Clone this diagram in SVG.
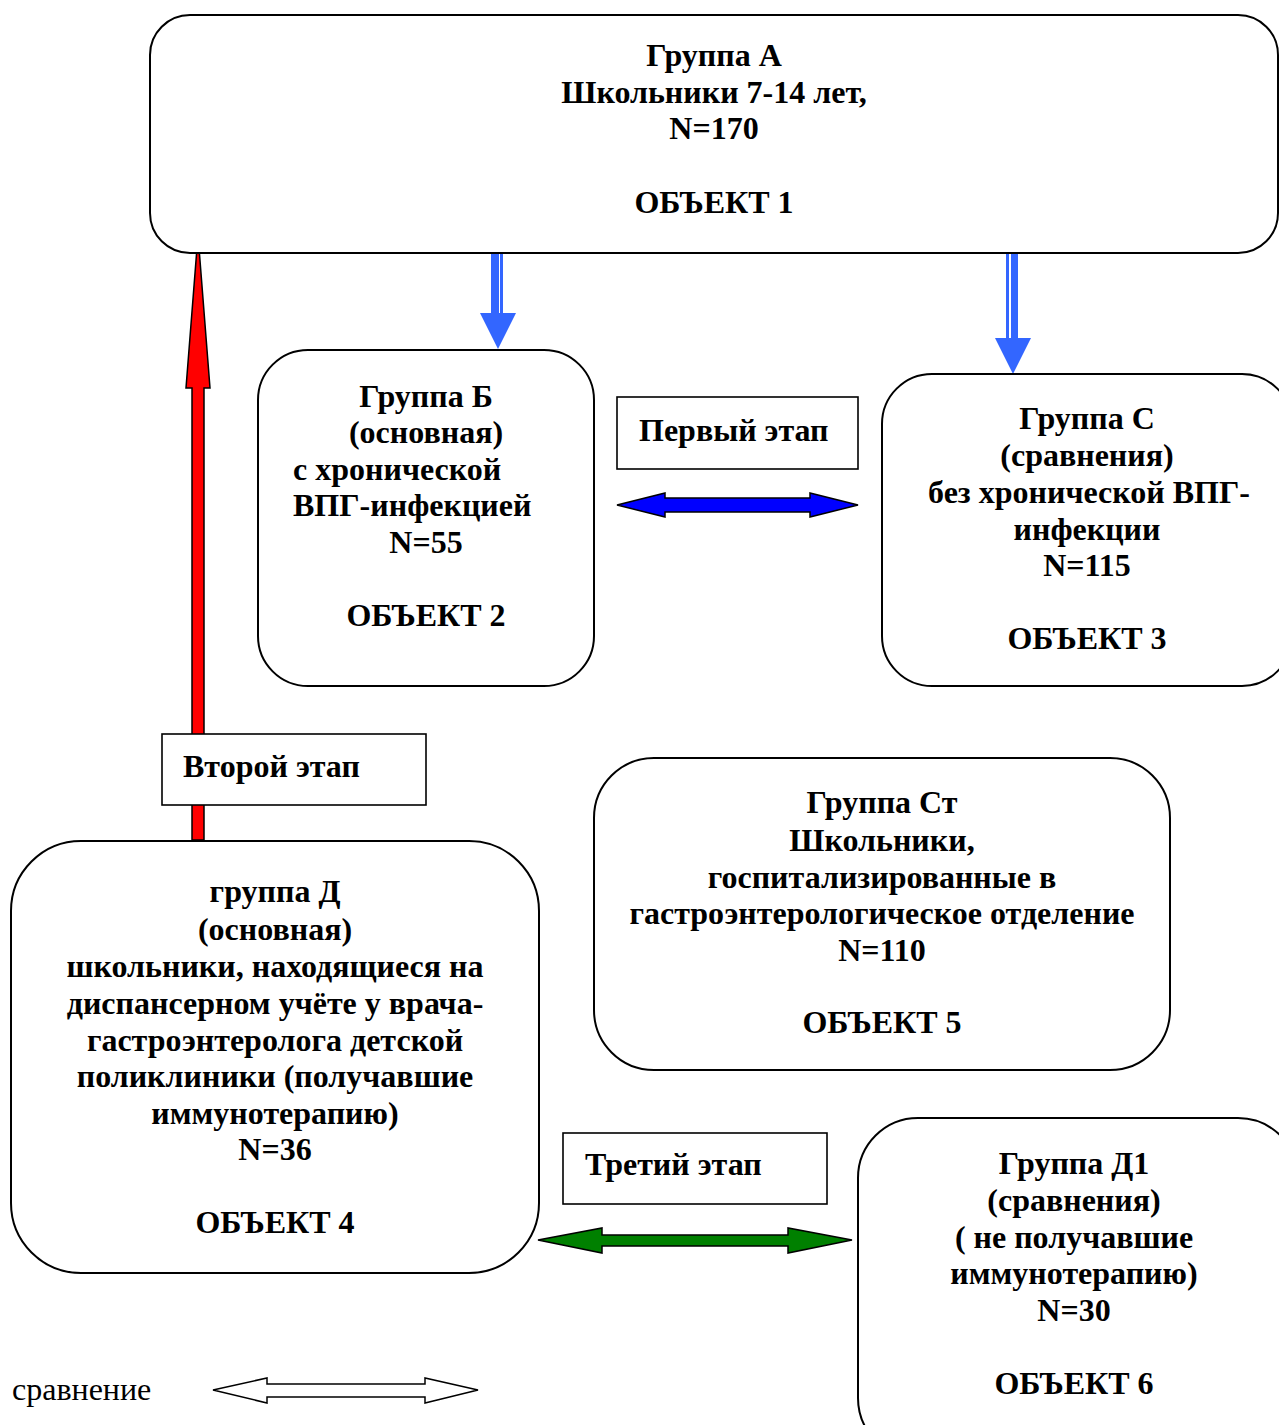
<svg xmlns="http://www.w3.org/2000/svg" width="1279" height="1425" viewBox="0 0 1279 1425">
<style>
.box{fill:#fff;stroke:#000;stroke-width:2}
.lbl{fill:#fff;stroke:#000;stroke-width:1.6}
text{font-family:"Liberation Serif","Times New Roman",serif;font-size:32px;font-weight:bold;fill:#000}
.c{text-anchor:middle}
.reg{font-weight:normal}
.arr{stroke:#000;stroke-width:1.5;stroke-linejoin:miter}
</style>
<rect width="1279" height="1425" fill="#fff"/>
<g id="connectors">
  <polygon id="red-arrow" class="arr" fill="#ff0000" points="192,840 192,388 186,388 198,235 210,388 204,388 204,840"/>
  <g id="blue-down-1" fill="#3366ff">
    <rect x="491" y="250" width="8" height="66"/>
    <rect x="500" y="250" width="3" height="66"/>
    <polygon points="480,313 516,313 498,349"/>
  </g>
  <g id="blue-down-2" fill="#3366ff">
    <rect x="1006" y="250" width="3" height="90"/>
    <rect x="1011" y="250" width="7" height="90"/>
    <polygon points="995,338 1031,338 1013,374"/>
  </g>
  <polygon id="blue-double" class="arr" fill="#0000ff" points="617,505 665,493 665,498 810,498 810,493 858,505 810,517 810,512 665,512 665,517"/>
  <polygon id="green-double" class="arr" fill="#008000" points="538,1240 602,1228 602,1235 788,1235 788,1228 852,1240 788,1253 788,1246 602,1246 602,1253"/>
</g>
<g id="node-A">
  <rect class="box" x="150" y="15" width="1128" height="238" rx="40" ry="40"/>
  <text class="c" x="714" y="66">Группа А</text>
  <text class="c" x="714" y="103">Школьники 7-14 лет,</text>
  <text class="c" x="714" y="139">N=170</text>
  <text class="c" x="714" y="213">ОБЪЕКТ 1</text>
</g>
<g id="node-B">
  <rect class="box" x="258" y="350" width="336" height="336" rx="50" ry="50"/>
  <text class="c" x="426" y="407">Группа Б</text>
  <text class="c" x="426" y="443">(основная)</text>
  <text x="293" y="480">с хронической</text>
  <text x="293" y="516">ВПГ-инфекцией</text>
  <text class="c" x="426" y="553">N=55</text>
  <text class="c" x="426" y="626">ОБЪЕКТ 2</text>
</g>
<g id="node-C">
  <rect class="box" x="882" y="374" width="410" height="312" rx="50" ry="50"/>
  <text class="c" x="1087" y="429">Группа С</text>
  <text class="c" x="1087" y="466">(сравнения)</text>
  <text class="c" x="1089" y="503">без хронической ВПГ-</text>
  <text class="c" x="1087" y="540">инфекции</text>
  <text class="c" x="1087" y="576">N=115</text>
  <text class="c" x="1087" y="649">ОБЪЕКТ 3</text>
</g>
<g id="label-stage1">
  <rect class="lbl" x="617" y="397" width="241" height="72"/>
  <text x="639" y="441">Первый этап</text>
</g>
<g id="label-stage2">
  <rect class="lbl" x="162" y="734" width="264" height="71"/>
  <text x="183" y="777">Второй этап</text>
</g>
<g id="node-St">
  <rect class="box" x="594" y="758" width="576" height="312" rx="60" ry="60"/>
  <text class="c" x="882" y="813">Группа Ст</text>
  <text class="c" x="882" y="851">Школьники,</text>
  <text class="c" x="882" y="888">госпитализированные в</text>
  <text class="c" x="882" y="924">гастроэнтерологическое отделение</text>
  <text class="c" x="882" y="961">N=110</text>
  <text class="c" x="882" y="1033">ОБЪЕКТ 5</text>
</g>
<g id="node-D">
  <rect class="box" x="11" y="841" width="528" height="432" rx="70" ry="70"/>
  <text class="c" x="275" y="902">группа Д</text>
  <text class="c" x="275" y="940">(основная)</text>
  <text class="c" x="275" y="977">школьники, находящиеся на</text>
  <text class="c" x="275" y="1014">диспансерном учёте у врача-</text>
  <text class="c" x="275" y="1051">гастроэнтеролога детской</text>
  <text class="c" x="275" y="1087">поликлиники (получавшие</text>
  <text class="c" x="275" y="1124">иммунотерапию)</text>
  <text class="c" x="275" y="1160">N=36</text>
  <text class="c" x="275" y="1233">ОБЪЕКТ 4</text>
</g>
<g id="label-stage3">
  <rect class="lbl" x="563" y="1133" width="264" height="71"/>
  <text x="585" y="1175">Третий этап</text>
</g>
<g id="node-D1">
  <rect class="box" x="858" y="1118" width="440" height="340" rx="60" ry="60"/>
  <text class="c" x="1074" y="1174">Группа Д1</text>
  <text class="c" x="1074" y="1211">(сравнения)</text>
  <text class="c" x="1074" y="1248">( не получавшие</text>
  <text class="c" x="1074" y="1284">иммунотерапию)</text>
  <text class="c" x="1074" y="1321">N=30</text>
  <text class="c" x="1074" y="1394">ОБЪЕКТ 6</text>
</g>
<g id="legend">
  <text class="reg" x="12" y="1400">сравнение</text>
  <polygon class="arr" fill="#fff" points="213,1390 267,1378 267,1384 425,1384 425,1378 478,1390 425,1403 425,1397 267,1397 267,1403"/>
</g>
</svg>
